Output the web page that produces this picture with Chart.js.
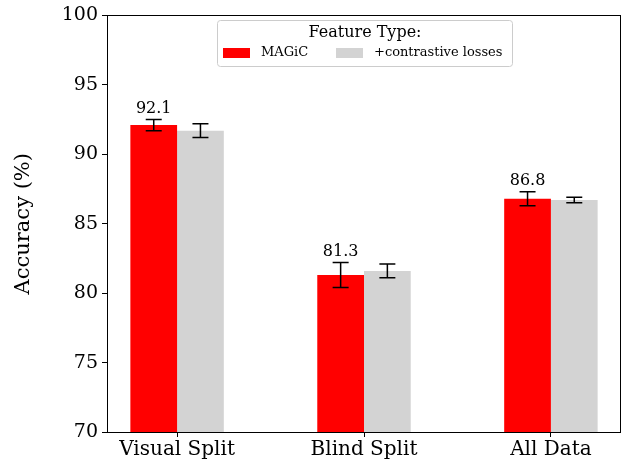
<!DOCTYPE html>
<html lang="en">
<head>
    <meta charset="UTF-8">
    <title>Accuracy by split</title>
    <script src="https://cdn.jsdelivr.net/npm/chart.js"></script>
    <style>
        html, body { margin: 0; padding: 0; background: #fff; }
        #wrap { position: relative; width: 623px; height: 463px; }
    </style>
</head>
<body>
    <div id="wrap">
        <canvas id="accChart" width="623" height="463"></canvas>
    </div>

    <script>
        const categories = ['Visual Split', 'Blind Split', 'All Data'];
        const seriesNames = ['MAGiC', '+contrastive losses'];
        const magicValues = [92.1, 81.3, 86.8];
        const magicErrors = [0.4, 0.9, 0.5];
        const contrastValues = [91.7, 81.6, 86.7];
        const contrastErrors = [0.5, 0.5, 0.2];
        const yTicks = [70, 75, 80, 85, 90, 95, 100];

        const FONT = "'DejaVu Serif', serif";

        function toPoints(values) {
            return values.map((v, i) => ({ x: i, y: v }));
        }

        // error bars + value labels on the first series
        const errorBars = {
            id: 'errorBars',
            afterDatasetsDraw(chart) {
                const ctx = chart.ctx;
                const y = chart.scales.y;
                const errs = [magicErrors, contrastErrors];
                ctx.save();
                chart.data.datasets.forEach((ds, di) => {
                    const meta = chart.getDatasetMeta(di);
                    meta.data.forEach((bar, i) => {
                        const v = ds.data[i].y;
                        const e = errs[di][i];
                        const top = y.getPixelForValue(v + e);
                        const bot = y.getPixelForValue(v - e);
                        ctx.strokeStyle = '#000';
                        ctx.lineWidth = 1.5;
                        ctx.beginPath();
                        ctx.moveTo(bar.x, top);
                        ctx.lineTo(bar.x, bot);
                        ctx.moveTo(bar.x - 8, top);
                        ctx.lineTo(bar.x + 8, top);
                        ctx.moveTo(bar.x - 8, bot);
                        ctx.lineTo(bar.x + 8, bot);
                        ctx.stroke();
                        if (di === 0) {
                            ctx.fillStyle = '#000';
                            ctx.font = '16px ' + FONT;
                            ctx.textAlign = 'center';
                            ctx.textBaseline = 'bottom';
                            ctx.fillText(v.toFixed(1), bar.x, top - 3);
                        }
                    });
                });
                ctx.restore();
            }
        };

        // full box frame + legend inside the plot
        const frameAndLegend = {
            id: 'frameAndLegend',
            afterDraw(chart) {
                const ctx = chart.ctx;
                const a = chart.chartArea;
                ctx.save();
                ctx.strokeStyle = '#000';
                ctx.lineWidth = 1;
                ctx.strokeRect(Math.round(a.left) + 0.5, Math.round(a.top) + 0.5,
                    Math.round(a.right - a.left) - 1, Math.round(a.bottom - a.top));

                // legend box
                const bx = 217.5, by = 20.5, bw = 295, bh = 46, r = 3;
                ctx.fillStyle = 'rgba(255,255,255,0.8)';
                ctx.strokeStyle = '#cccccc';
                ctx.beginPath();
                ctx.roundRect(bx, by, bw, bh, r);
                ctx.fill();
                ctx.stroke();

                ctx.fillStyle = '#000';
                ctx.textBaseline = 'middle';
                ctx.textAlign = 'center';
                ctx.font = '16px ' + FONT;
                ctx.fillText('Feature Type:', bx + bw / 2, 33);

                ctx.textAlign = 'left';
                ctx.font = '13px ' + FONT;
                const swatchX = [223, 336];
                chart.data.datasets.forEach((ds, i) => {
                    ctx.fillStyle = ds.backgroundColor;
                    ctx.fillRect(swatchX[i], 48, 27, 10);
                    ctx.fillStyle = '#000';
                    ctx.fillText(ds.label, swatchX[i] + 38, 53);
                });
                ctx.restore();
            }
        };

        new Chart(document.getElementById('accChart'), {
            type: 'bar',
            data: {
                datasets: [
                    { label: seriesNames[0], data: toPoints(magicValues), backgroundColor: '#ff0000' },
                    { label: seriesNames[1], data: toPoints(contrastValues), backgroundColor: '#d3d3d3' }
                ]
            },
            options: {
                responsive: false,
                animation: false,
                categoryPercentage: 0.5,
                barPercentage: 1.0,
                layout: { padding: { top: 13, right: 2, left: 0, bottom: 0 } },
                plugins: {
                    legend: { display: false },
                    tooltip: { enabled: false }
                },
                scales: {
                    x: {
                        type: 'linear',
                        offset: false,
                        min: -0.375,
                        max: 2.375,
                        grid: { display: true, offset: false, drawOnChartArea: false, drawTicks: true, tickLength: 5, color: '#000' },
                        border: { display: false },
                        afterBuildTicks(scale) {
                            scale.ticks = categories.map((c, i) => ({ value: i }));
                        },
                        afterFit(scale) { scale.height = 31; },
                        ticks: {
                            autoSkip: false,
                            maxRotation: 0,
                            padding: 1,
                            color: '#000',
                            font: { family: FONT, size: 20 },
                            callback: (v) => categories[v]
                        }
                    },
                    y: {
                        min: 70,
                        max: 100,
                        grid: { display: true, drawOnChartArea: false, drawTicks: true, tickLength: 5, color: '#000' },
                        border: { display: false },
                        afterBuildTicks(scale) {
                            scale.ticks = yTicks.map(v => ({ value: v }));
                        },
                        afterFit(scale) { scale.width = 107; },
                        ticks: {
                            padding: 4,
                            color: '#000',
                            font: { family: FONT, size: 19 }
                        },
                        title: {
                            display: true,
                            text: 'Accuracy (%)',
                            color: '#000',
                            font: { family: FONT, size: 21 },
                            padding: { top: 11, bottom: 0 }
                        }
                    }
                }
            },
            plugins: [errorBars, frameAndLegend]
        });
    </script>
</body>
</html>
